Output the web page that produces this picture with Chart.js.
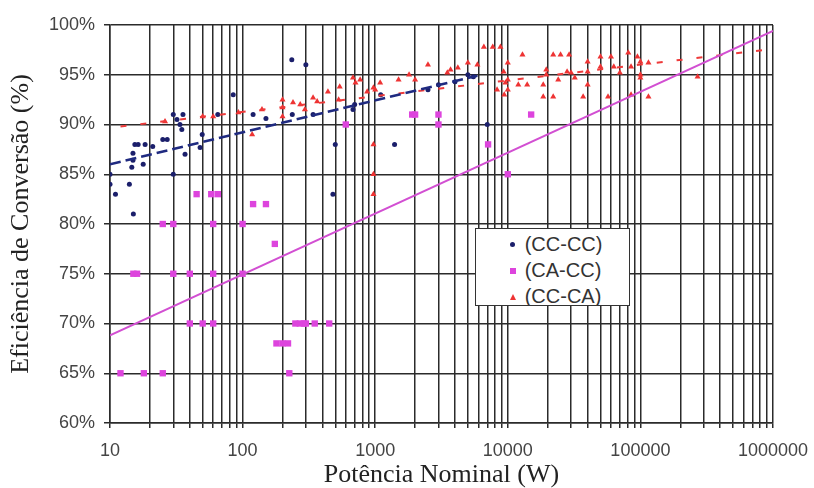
<!DOCTYPE html>
<html>
<head>
<meta charset="utf-8">
<script src="https://cdn.jsdelivr.net/npm/chart.js@4.4.1/dist/chart.umd.min.js"></script>
<style>
  body { margin: 0; background: #fff; }
  #wrap { position: relative; width: 814px; height: 488px; }
  #legend {
    position: absolute; left: 475px; top: 228px; width: 153px; height: 76px;
    border: 1.5px solid #333; background: #fff; overflow: hidden;
    font-family: "Liberation Sans", Arial, sans-serif; font-size: 20px; color: #333;
  }
  #legend div { height: 26px; line-height: 26px; padding-left: 32px; position: relative; white-space: nowrap; }
  #legend span { position: absolute; left: 34px; top: 11px; }
  #legend div:first-child { margin-top: 2px; }
</style>
</head>
<body>
<div id="wrap">
  <canvas id="chart" width="814" height="488"></canvas>
  <div id="legend">
    <div><span style="width:5px;height:5px;border-radius:50%;background:#1b1f6b"></span>&nbsp;&nbsp;&nbsp;(CC-CC)</div>
    <div><span style="width:6px;height:6px;background:#dd44dd"></span>&nbsp;&nbsp;&nbsp;(CA-CC)</div>
    <div><span style="width:0;height:0;border-left:3px solid transparent;border-right:3px solid transparent;border-bottom:6px solid #ee3333;background:none"></span>&nbsp;&nbsp;&nbsp;(CC-CA)</div>
  </div>
</div>
<script>
// CC-CC (dc-dc) converters
const ccccPower = [10, 10, 11, 14, 15, 30, 480,
  14.6, 14.9, 14.9, 15.4, 16.3, 18.4, 17.8, 21, 25, 27,
  30, 35.5, 32, 33.7, 34.8, 36.8, 49.6, 47.8, 65, 85,
  120, 150, 235, 300, 237, 340, 500, 680, 700, 1400, 7000,
  1100, 2500, 3000, 4000, 5000, 5500];
const ccccEff = [85, 84, 83, 84, 81, 85, 83,
  85.7, 86.4, 87.1, 88, 88, 88, 86, 87.8, 88.5, 88.5,
  91, 91, 90.5, 90, 89.5, 87, 89, 87.7, 91, 93,
  91, 90.6, 96.5, 96, 91, 91, 88, 91.5, 92, 88, 90,
  93, 93.5, 94, 94.3, 95, 94.8];

// CA-CC (ac-dc) converters
const caccPower = [45, 58, 65, 120, 150, 25, 30, 60, 100, 175,
  15, 16, 30, 40, 60, 100, 40, 50, 60, 250, 270, 290, 300, 350, 450,
  180, 200, 220, 12, 18, 25, 225,
  600, 1900, 2000, 3000, 3000, 7100, 10000, 15000];
const caccEff = [83, 83, 83, 82, 82, 80, 80, 80, 80, 78,
  75, 75, 75, 75, 75, 75, 70, 70, 70, 70, 70, 70, 70, 70, 70,
  68, 68, 68, 65, 65, 65, 65,
  90, 91, 91, 91, 90, 88, 85, 91];

// CC-CA (dc-ac) converters
const cccaPower = [26, 50, 60, 93, 118, 140, 200, 200, 200, 240, 272, 295, 340, 365,
  440, 540, 530, 680, 770, 710, 870, 970, 970, 970, 970, 1090, 1000,
  1500, 1800, 2000, 2500, 3500, 3700, 4200, 5000, 5900, 6600, 7700, 8800,
  9300, 8300, 9600, 10000, 12900, 22000, 25000, 29000, 40000, 50000, 60000,
  81000, 95000, 100000, 115000, 19500, 19500, 24000, 30000, 32000, 40000,
  18500, 18500, 22000, 37000, 57000, 85000, 115000, 12000, 14000, 10000,
  10000, 9400, 70000, 85000, 63000, 50000, 40000, 28000, 100000, 100000, 270000];
const cccaEff = [90.3, 90.8, 90.8, 91.2, 89, 91.5, 92.5, 91.7, 90.8, 92.2, 92, 91.5, 92.7, 92.3,
  93.3, 93.8, 92.5, 94.7, 94.5, 94.2, 93.3, 93.7, 88, 85, 83, 94.2, 93.5,
  94.5, 95, 94.5, 96, 95.2, 95.5, 95.7, 96.2, 96, 97.8, 97.8, 97.8,
  95.3, 93.5, 94.2, 96.2, 97, 97, 97, 97, 96.3, 96.8, 96.8,
  97.2, 96.8, 96.3, 96.2, 95.5, 95, 94.5, 95.2, 94.7, 94,
  94, 92.8, 92.8, 92.8, 92.8, 93, 92.8, 94, 94, 94.5,
  93.5, 93, 95.2, 95.8, 95.8, 95.8, 95.3, 95.3, 95, 94.7, 94.8];

// trend lines (end points)
const ccccTrendPower = [10, 5900];
const ccccTrendEff = [86.0, 94.9];
const caccTrendPower = [10, 1000000];
const caccTrendEff = [68.8, 99.4];
const cccaTrendPower = [12, 1000000];
const cccaTrendEff = [89.8, 97.6];

function toPoints(xs, ys) {
  return xs.map((x, i) => ({ x: x, y: ys[i] }));
}

const gridColor = "#2b2b2b";

const ctx = document.getElementById("chart").getContext("2d");
new Chart(ctx, {
  type: "scatter",
  data: {
    datasets: [
      {
        label: "trend CC-CC",
        data: toPoints(ccccTrendPower, ccccTrendEff),
        showLine: true, pointRadius: 0,
        borderColor: "#1f2a80", borderWidth: 2.5, borderDash: [11, 5]
      },
      {
        label: "trend CA-CC",
        data: toPoints(caccTrendPower, caccTrendEff),
        showLine: true, pointRadius: 0,
        borderColor: "#d24fd2", borderWidth: 2
      },
      {
        label: "trend CC-CA",
        data: toPoints(cccaTrendPower, cccaTrendEff),
        showLine: true, pointRadius: 0,
        borderColor: "#ee3a3a", borderWidth: 2, borderDash: [6, 14]
      },
      {
        label: "(CC-CC)",
        data: toPoints(ccccPower, ccccEff),
        pointStyle: "circle", pointRadius: 2.5,
        backgroundColor: "#1b1f6b", borderColor: "#1b1f6b", borderWidth: 0
      },
      {
        label: "(CA-CC)",
        data: toPoints(caccPower, caccEff),
        pointStyle: "rect", pointRadius: 4.5,
        backgroundColor: "#dd44dd", borderColor: "#dd44dd", borderWidth: 0
      },
      {
        label: "(CC-CA)",
        data: toPoints(cccaPower, cccaEff),
        pointStyle: "triangle", pointRadius: 3.5,
        backgroundColor: "#ee3333", borderColor: "#ee3333", borderWidth: 0
      }
    ]
  },
  options: {
    responsive: false,
    animation: false,
    layout: { padding: { top: 25, right: 41, left: 0, bottom: 0 } },
    plugins: { legend: { display: false }, tooltip: { enabled: false } },
    scales: {
      x: {
        type: "logarithmic",
        min: 10,
        max: 1000000,
        afterBuildTicks: (scale) => {
          const ticks = [];
          for (let p = 10; p < 1000000; p *= 10) {
            for (let m = 1; m < 10; m++) ticks.push({ value: p * m });
          }
          ticks.push({ value: 1000000 });
          scale.ticks = ticks;
        },
        afterFit: (scale) => {
          scale.height = 65;
          scale.paddingLeft = 0;
          scale.paddingRight = 0;
        },
        grid: { color: gridColor, lineWidth: 1.5, tickLength: 5, tickColor: gridColor },
        border: { color: gridColor, width: 1.5 },
        ticks: {
          autoSkip: false, maxRotation: 0, padding: 12,
          color: "#444",
          font: { family: "'Liberation Sans', Arial, sans-serif", size: 18 },
          callback: (v) => {
            const l = Math.log10(v);
            return Math.abs(l - Math.round(l)) < 1e-9 ? String(Math.round(v)) : "";
          }
        },
        title: {
          display: true,
          text: "Potência Nominal (W)",
          color: "#222",
          padding: { top: 0, bottom: 0 },
          font: { family: "'Liberation Serif', 'Times New Roman', serif", size: 26, lineHeight: 1.0 }
        }
      },
      y: {
        min: 60,
        max: 100,
        afterFit: (scale) => { scale.width = 110; },
        grid: { color: gridColor, lineWidth: 1.5, tickLength: 6, tickColor: gridColor },
        border: { color: gridColor, width: 1.5 },
        ticks: {
          stepSize: 5, padding: 9,
          color: "#444",
          font: { family: "'Liberation Sans', Arial, sans-serif", size: 18 },
          callback: (v) => v + "%"
        },
        title: {
          display: true,
          text: "Eficiência de Conversão (%)",
          color: "#222",
          padding: { top: 6, bottom: 0 },
          font: { family: "'Liberation Serif', 'Times New Roman', serif", size: 26 }
        }
      }
    }
  }
});
</script>
</body>
</html>
